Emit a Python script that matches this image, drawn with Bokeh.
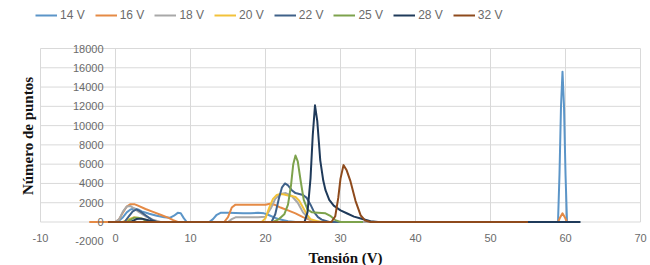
import math
from bokeh.plotting import figure
from bokeh.models import Range1d, Legend, LegendItem
from bokeh.core.properties import value
from bokeh.embed import file_html
from bokeh.resources import INLINE

# ---------------- data ----------------
x_ticks = [-10, 0, 10, 20, 30, 40, 50, 60, 70]
x_tick_labels = ["-10", "0", "10", "20", "30", "40", "50", "60", "70"]
y_ticks = [-2000, 0, 2000, 4000, 6000, 8000, 10000, 12000, 14000, 16000, 18000]
y_tick_labels = ["-2000", "0", "2000", "4000", "6000", "8000", "10000", "12000", "14000", "16000", "18000"]

series_names = ["14 V", "16 V", "18 V", "20 V", "22 V", "25 V", "28 V", "32 V"]

v14_x = [-2, 0, 0.5, 1.0, 1.5, 2.0, 2.5, 3.0, 3.5, 4.5, 5.5, 6.5, 7.3, 7.8, 8.3, 8.7, 9.1, 9.5,
         12.5, 13.0, 13.5, 14.0, 15.0, 16.0, 17.0, 18.0, 19.0, 19.8, 20.5, 21.2, 22.0, 23.0, 24.0,
         59.0, 59.2, 59.4, 59.6, 59.8, 60.0, 60.2, 61.0]
v14_y = [0, 0, 150, 500, 1000, 1300, 1400, 1300, 1100, 850, 650, 500, 450, 650, 950, 900, 400, 0,
         0, 300, 750, 950, 950, 930, 900, 920, 950, 900, 700, 450, 250, 80, 0,
         0, 5000, 12000, 15600, 12000, 5000, 0, 0]

v16_x = [-3.5, 0, 0.5, 1.0, 1.5, 2.0, 2.5, 3.0, 4.0, 5.0, 6.0, 7.0, 7.7, 8.3,
         14.5, 15.0, 15.5, 16.0, 17.0, 18.0, 19.0, 20.0, 20.6, 21.2, 22.0, 23.0, 24.0, 25.0, 26.0, 27.0,
         59.0, 59.3, 59.6, 59.9, 60.2, 61.0]
v16_y = [0, 0, 300, 1000, 1600, 1850, 1850, 1700, 1350, 1050, 750, 450, 200, 0,
         0, 500, 1500, 1800, 1800, 1780, 1800, 1800, 1900, 1800, 1500, 1200, 900, 500, 200, 0,
         0, 500, 900, 500, 0, 0]

v18_x = [-1, 0, 0.5, 1.0, 1.5, 2.0, 2.5, 3.0, 4.0, 5.0, 6.0,
         15.0, 15.5, 16.0, 17.5, 19.0, 20.0, 20.7, 21.3, 22.0, 22.7, 23.5, 24.3, 25.0, 25.7, 26.5, 55.0]
v18_y = [0, 0, 300, 1100, 1600, 1650, 1400, 1100, 600, 250, 0,
         0, 300, 480, 480, 500, 550, 1400, 2400, 2900, 3000, 2700, 2000, 1000, 400, 0, 0]

v20_x = [0, 1.0, 1.8, 2.5, 3.5, 4.5, 5.5, 19.5, 20.0, 20.5, 21.0, 21.5, 22.0, 22.5, 23.0, 23.5,
         24.0, 24.5, 25.0, 25.5, 26.0, 26.8, 27.5, 30.0]
v20_y = [0, 0, 300, 500, 350, 100, 0, 0, 400, 1500, 2400, 2800, 2900, 2850, 2750, 2700,
         2600, 2200, 1500, 800, 300, 100, 0, 0]

v22_x = [-1, 1.2, 1.8, 2.3, 2.8, 3.3, 4.0, 4.8, 5.5, 20.8, 21.3, 21.8, 22.2, 22.6, 23.0, 23.5,
         24.0, 24.5, 25.0, 25.5, 26.0, 26.5, 27.0, 27.5, 28.5, 31.0]
v22_y = [0, 0, 600, 1100, 1300, 1100, 700, 250, 0, 0, 800, 2500, 3600, 4000, 3800, 3300,
         3000, 2900, 2800, 2500, 1800, 1000, 500, 250, 0, 0]

v25_x = [0, 1.5, 2.0, 2.5, 3.0, 3.5, 4.2, 5.0, 21.0, 21.8, 22.5, 23.0, 23.4, 23.7, 24.0, 24.3,
         24.7, 25.1, 25.6, 26.2, 27.0, 28.0, 28.7, 29.3, 30.0, 33.0]
v25_y = [0, 0, 250, 450, 450, 350, 100, 0, 0, 300, 800, 1800, 3800, 6000, 6900, 6300,
         4200, 2300, 1300, 1000, 950, 900, 600, 200, 0, 0]

v28_x = [-1, 2.0, 2.8, 3.5, 4.5, 5.5, 25.2, 25.6, 26.0, 26.3, 26.6, 26.9, 27.3, 27.7, 28.0, 28.5,
         29.1, 30.0, 30.9, 31.8, 32.7, 34.0, 35.0, 62.0]
v28_y = [0, 0, 300, 350, 150, 0, 0, 1000, 4500, 9000, 12100, 10500, 6400, 4300, 3300, 2300,
         1700, 1200, 880, 560, 360, 80, 0, 0]

v32_x = [-1, 28.8, 29.3, 29.7, 30.0, 30.4, 30.8, 31.3, 32.0, 32.7, 33.3, 34.0, 55.0]
v32_y = [0, 0, 600, 2500, 4500, 5900, 5400, 4300, 2200, 670, 150, 0, 0]

series_x = [v14_x, v16_x, v18_x, v20_x, v22_x, v25_x, v28_x, v32_x]
series_y = [v14_y, v16_y, v18_y, v20_y, v22_y, v25_y, v28_y, v32_y]
series_colors = ["#5B95C8", "#E58A45", "#A8A8A8", "#F2C23A", "#3F6189", "#7DA24C", "#1F3A5A", "#8E4A1C"]

# ---------------- figure ----------------
W, H = 650, 265
p = figure(width=W, height=H, output_backend="svg", toolbar_location=None,
           x_range=Range1d(-15.333, 71.333), y_range=Range1d(-4513, 22980),
           x_axis_location=None, y_axis_location=None,
           min_border=0, outline_line_color=None)
p.grid.visible = False
p.background_fill_color = "white"
p.border_fill_color = "white"

grid_col = "#D9D9D9"
hg = [t for t in y_ticks if t >= 0]
p.segment(x0=[x_ticks[0]] * len(hg), x1=[x_ticks[-1]] * len(hg), y0=hg, y1=hg,
          line_color=grid_col, line_width=1)
p.segment(x0=x_ticks, x1=x_ticks, y0=[0] * len(x_ticks), y1=[y_ticks[-1]] * len(x_ticks),
          line_color=grid_col, line_width=1)

items = []
for name, xs, ys, col in zip(series_names, series_x, series_y, series_colors):
    r = p.line(xs, ys, line_color=col, line_width=2, line_join="round")
    items.append(LegendItem(label=name, renderers=[r]))

lab_col = "#6B6B6B"
p.text(x=[-1.6] * len(y_ticks), y=y_ticks, text=y_tick_labels,
       text_font=value("Liberation Sans"), text_font_size=value("11px"),
       text_color=lab_col, text_align="right", text_baseline="middle")
p.text(x=x_ticks, y=[-1660] * len(x_ticks), text=x_tick_labels,
       text_font=value("Liberation Sans"), text_font_size=value("11px"),
       text_color=lab_col, text_align="center", text_baseline="middle")

p.text(x=[30.67], y=[-3750], text=["Tensión (V)"],
       text_font=value("Liberation Serif"), text_font_size=value("15px"), text_font_style="bold",
       text_color="#111111", text_align="center", text_baseline="middle")
p.text(x=[-11.6], y=[8920], text=["Número de puntos"], angle=math.pi / 2,
       text_font=value("Liberation Serif"), text_font_size=value("15px"), text_font_style="bold",
       text_color="#111111", text_align="center", text_baseline="middle")

legend = Legend(items=items, orientation="horizontal", location=(35, H - 8 - 14),
                glyph_width=22, glyph_height=14, label_height=14, label_standoff=3,
                spacing=10, padding=0, margin=0,
                border_line_alpha=0, background_fill_alpha=0,
                label_text_font="Liberation Sans", label_text_font_size="12px",
                label_text_color="#6B6B6B")
p.add_layout(legend)

open("out.html", "w").write(file_html(p, INLINE))
